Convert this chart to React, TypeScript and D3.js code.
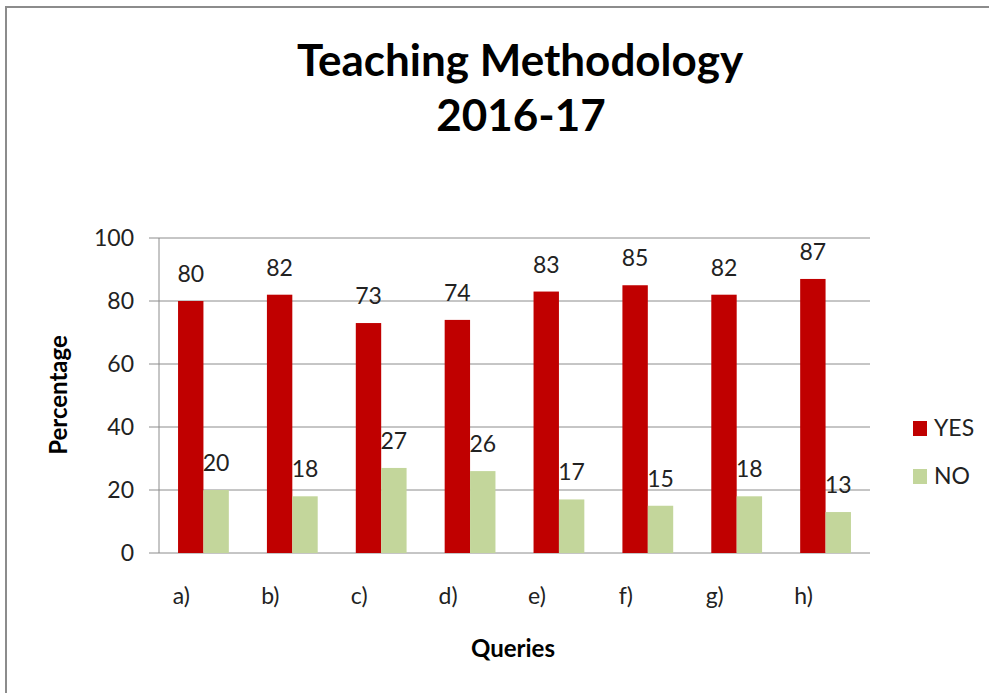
import * as d3 from "d3";
import React from "react";

const categories = ["a)", "b)", "c)", "d)", "e)", "f)", "g)", "h)"];
const yesValues = [80, 82, 73, 74, 83, 85, 82, 87];
const noValues = [20, 18, 27, 26, 17, 15, 18, 13];
const yTicks = [0, 20, 40, 60, 80, 100];
const seriesNames = ["YES", "NO"];
const seriesColors = ["#C00000", "#C3D69B"];

const font = "Lato, 'Open Sans', sans-serif";
const plot = { left: 159, right: 870, top: 238, bottom: 553 };

const App = () => {
	const xScale = d3
		.scaleBand()
		.domain(categories)
		.range([plot.left, plot.right]);
	const inner = d3
		.scaleBand()
		.domain(seriesNames)
		.range([0, xScale.bandwidth() / 1.75]);
	const yScale = d3.scaleLinear().domain([0, 100]).range([plot.bottom, plot.top]);

	const groupOffset = (xScale.bandwidth() - inner.range()[1]) / 2;
	const series = [yesValues, noValues];

	return (
		<svg
			width={989}
			height={693}
			style={{ position: "absolute", left: 0, top: 0, background: "white" }}>
			{/* outer frame, only top and left edges fall inside the picture */}
			<line x1={6} x2={989} y1={7} y2={7} stroke="#8c8c8c" strokeWidth={2} />
			<line x1={6} x2={6} y1={6} y2={693} stroke="#8c8c8c" strokeWidth={2} />

			<text x={520} y={76} textAnchor="middle" fontFamily={font} fontWeight="bold" fontSize={44} fill="#000">
				Teaching Methodology
			</text>
			<text x={521} y={131} textAnchor="middle" fontFamily={font} fontWeight="bold" fontSize={44} fill="#000">
				2016-17
			</text>

			{/* gridlines + y ticks */}
			{yTicks.map((t) => (
				<g key={t}>
					<line x1={plot.left - 10} x2={plot.right} y1={yScale(t)} y2={yScale(t)} stroke="#8c8c8c" strokeWidth={1} />
					<text x={134} y={yScale(t) + 8} textAnchor="end" fontFamily={font} fontSize={23} fill="#222">
						{t}
					</text>
				</g>
			))}
			<line x1={plot.left} x2={plot.left} y1={plot.top} y2={plot.bottom} stroke="#8c8c8c" strokeWidth={1} />

			{/* bars */}
			{categories.map((c, i) => (
				<g key={c}>
					{series.map((vals, s) => {
						const x = (xScale(c) as number) + groupOffset + (inner(seriesNames[s]) as number);
						const w = inner.bandwidth();
						return (
							<g key={s}>
								<rect
									x={x}
									y={yScale(vals[i])}
									width={w}
									height={plot.bottom - yScale(vals[i])}
									fill={seriesColors[s]}
								/>
								<text
									x={x + w / 2}
									y={yScale(vals[i]) - 19}
									textAnchor="middle"
									fontFamily={font}
									fontSize={23}
									fill="#222">
									{vals[i]}
								</text>
							</g>
						);
					})}
					<text
						x={(xScale(c) as number) + xScale.bandwidth() / 2 - 22}
						y={604}
						textAnchor="middle"
						fontFamily={font}
						fontSize={23}
						fill="#222">
						{c}
					</text>
				</g>
			))}

			<text
				transform={`translate(67,395) rotate(-90)`}
				textAnchor="middle"
				fontFamily={font}
				fontWeight="bold"
				fontSize={24}
				fill="#000">
				Percentage
			</text>
			<text x={513} y={657} textAnchor="middle" fontFamily={font} fontWeight="bold" fontSize={24} fill="#000">
				Queries
			</text>

			{/* legend */}
			{seriesNames.map((name, s) => (
				<g key={name} transform={`translate(913,${421 + s * 48})`}>
					<rect width={14} height={15} fill={seriesColors[s]} />
					<text x={21} y={15} fontFamily={font} fontSize={23} fill="#222">
						{name}
					</text>
				</g>
			))}
		</svg>
	);
};

export default App;
